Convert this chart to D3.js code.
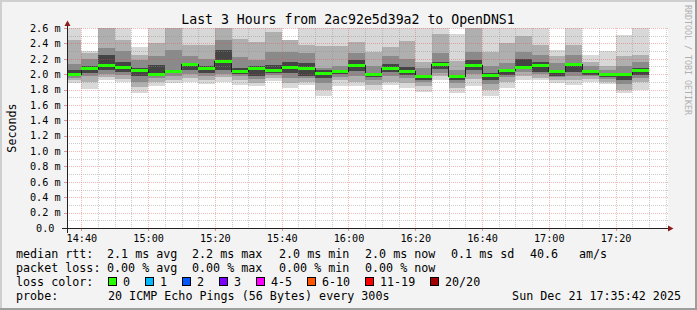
<!DOCTYPE html>
<html>
<head>
<meta charset="utf-8">
<script src="https://cdn.jsdelivr.net/npm/d3@7"></script>
<style>
  body { margin: 0; background: #f3f3f3; }
  svg { display: block; font-family: "DejaVu Sans Mono", monospace; }
</style>
</head>
<body>
<svg id="chart" width="697" height="310"></svg>
<script>
// 5 minute steps, time is the end of each step
const barEnds = ["14:40", "14:45", "14:50", "14:55", "15:00", "15:05", "15:10", "15:15", "15:20", "15:25",
    "15:30", "15:35", "15:40", "15:45", "15:50", "15:55", "16:00", "16:05", "16:10", "16:15",
    "16:20", "16:25", "16:30", "16:35", "16:40", "16:45", "16:50", "16:55", "17:00", "17:05",
    "17:10", "17:15", "17:20", "17:25", "17:30"];

// median rtt in ms
const medians = [1.99, 2.07, 2.11, 2.09, 2.05, 1.99, 2.03, 2.12, 2.07, 2.16,
    2.03, 2.08, 2.05, 2.09, 2.07, 2.01, 2.03, 2.11, 1.99, 2.08,
    2.03, 1.97, 2.13, 1.97, 2.11, 1.98, 2.05, 2.09, 2.11, 2.03,
    2.13, 2.03, 2.00, 1.99, 2.05];

// smoke, sorted ping times in ms (outer pair = min/max)
const smoke = [
    [1.88, 1.92, 1.95, 1.97, 2.05, 2.13, 2.45, 2.62],
    [1.81, 1.90, 1.97, 2.01, 2.10, 2.20, 2.27, 2.30],
    [1.93, 1.96, 2.00, 2.05, 2.25, 2.34, 2.62, 2.62],
    [1.90, 1.94, 1.99, 2.03, 2.16, 2.30, 2.44, 2.62],
    [1.75, 1.83, 1.90, 1.97, 2.08, 2.18, 2.25, 2.35],
    [1.85, 1.90, 1.95, 1.97, 2.12, 2.23, 2.40, 2.62],
    [1.88, 1.93, 1.97, 2.01, 2.06, 2.32, 2.62, 2.62],
    [1.90, 1.95, 2.00, 2.06, 2.15, 2.24, 2.38, 2.62],
    [1.87, 1.93, 1.97, 2.01, 2.10, 2.20, 2.38, 2.62],
    [1.90, 1.96, 2.00, 2.05, 2.31, 2.44, 2.60, 2.62],
    [1.86, 1.93, 1.97, 2.00, 2.08, 2.22, 2.46, 2.62],
    [1.84, 1.88, 1.94, 1.97, 2.10, 2.18, 2.42, 2.62],
    [1.91, 1.95, 1.99, 2.02, 2.12, 2.29, 2.55, 2.62],
    [1.82, 1.88, 1.95, 2.01, 2.16, 2.29, 2.44, 2.45],
    [1.86, 1.90, 1.95, 1.98, 2.14, 2.27, 2.38, 2.62],
    [1.71, 1.80, 1.88, 1.95, 2.05, 2.08, 2.36, 2.62],
    [1.84, 1.92, 1.96, 2.00, 2.06, 2.10, 2.36, 2.62],
    [1.84, 1.90, 1.97, 2.04, 2.18, 2.27, 2.42, 2.62],
    [1.80, 1.86, 1.92, 1.96, 2.02, 2.10, 2.29, 2.62],
    [1.86, 1.90, 1.97, 2.03, 2.13, 2.23, 2.35, 2.62],
    [1.82, 1.88, 1.95, 1.99, 2.09, 2.20, 2.43, 2.62],
    [1.77, 1.84, 1.90, 1.93, 1.99, 2.08, 2.16, 2.62],
    [1.92, 1.97, 2.02, 2.07, 2.16, 2.27, 2.52, 2.62],
    [1.75, 1.82, 1.88, 1.92, 1.99, 2.05, 2.17, 2.52],
    [1.84, 1.94, 2.00, 2.05, 2.18, 2.29, 2.62, 2.62],
    [1.71, 1.80, 1.87, 1.93, 2.01, 2.10, 2.29, 2.62],
    [1.82, 1.90, 1.96, 1.99, 2.07, 2.14, 2.40, 2.62],
    [1.92, 1.97, 2.03, 2.07, 2.20, 2.29, 2.50, 2.62],
    [1.92, 1.95, 2.00, 2.03, 2.16, 2.25, 2.38, 2.62],
    [1.88, 1.92, 1.96, 1.98, 2.06, 2.14, 2.23, 2.31],
    [1.86, 1.93, 1.98, 2.03, 2.14, 2.25, 2.38, 2.62],
    [1.90, 1.94, 1.97, 1.99, 2.05, 2.10, 2.16, 2.25],
    [1.87, 1.90, 1.94, 1.96, 2.02, 2.05, 2.10, 2.30],
    [1.75, 1.80, 1.87, 1.92, 2.01, 2.10, 2.23, 2.51],
    [1.80, 1.90, 1.95, 1.99, 2.08, 2.16, 2.25, 2.62]
];

const yTicks = [0, 0.2, 0.4, 0.6, 0.8, 1.0, 1.2, 1.4, 1.6, 1.8, 2.0, 2.2, 2.4, 2.6];
const xTicks = ["14:40", "15:00", "15:20", "15:40", "16:00", "16:20", "16:40", "17:00", "17:20"];

const rttStats = ["2.1 ms avg", "2.2 ms max", "2.0 ms min", "2.0 ms now", "0.1 ms sd", "40.6", "am/s"];
const lossStats = ["0.00 % avg", "0.00 % max", "0.00 % min", "0.00 % now"];
const lossLabels = ["0", "1", "2", "3", "4-5", "6-10", "11-19", "20/20"];
const lossColors = ["#26ff00", "#00b8ff", "#0059ff", "#7e00ff", "#ff00ff", "#ff5500", "#ff0000", "#a10000"];

const title = "Last 3 Hours from 2ac92e5d39a2 to OpenDNS1";
const probeText = "20 ICMP Echo Pings (56 Bytes) every 300s";
const stamp = "Sun Dec 21 17:35:42 2025";

const parseTime = d3.timeParse("%Y-%m-%d %H:%M");
const day = "2025-12-21 ";
const tStart = new Date(2025, 11, 21, 14, 35, 42);
const tEnd = new Date(2025, 11, 21, 17, 35, 42);

const svg = d3.select("#chart");
const W = 697, H = 310;
const pLeft = 67, pRight = 668, pTop = 28, pBottom = 228;

const x = d3.scaleTime().domain([tStart, tEnd]).range([pLeft, pRight]);
const y = d3.scaleLinear().domain([0, 2.6]).range([pBottom, pTop]);

const px = v => Math.round(v) + 0.5;

// background and 3d frame
svg.append("rect").attr("width", W).attr("height", H).attr("fill", "#f3f3f3");
svg.append("rect").attr("width", W).attr("height", 2).attr("fill", "#cfcfcf");
svg.append("rect").attr("width", 2).attr("height", H).attr("fill", "#cfcfcf");
svg.append("rect").attr("y", H - 2).attr("width", W).attr("height", 2).attr("fill", "#9e9e9e");
svg.append("rect").attr("x", W - 2).attr("width", 2).attr("height", H).attr("fill", "#9e9e9e");

svg.append("rect")
    .attr("x", pLeft).attr("y", pTop)
    .attr("width", pRight - pLeft).attr("height", pBottom - pTop)
    .attr("fill", "#ffffff");

svg.append("clipPath").attr("id", "plot")
    .append("rect")
    .attr("x", pLeft).attr("y", pTop)
    .attr("width", pRight - pLeft).attr("height", pBottom - pTop);

const bars = barEnds.map((s, i) => {
    const end = parseTime(day + s);
    const start = new Date(Math.max(+tStart, +d3.timeMinute.offset(end, -5)));
    return { start, end, median: medians[i], pings: smoke[i] };
});

// smoke layers, outer = lightest
const smokeColors = ["#d8d8d8", "#afafaf", "#8a8a8a", "#444444"];
const gSmoke = svg.append("g").attr("clip-path", "url(#plot)");

smokeColors.forEach((c, j) => {
    gSmoke.selectAll(null)
        .data(bars)
        .enter()
        .append("rect")
        .attr("x", d => x(d.start))
        .attr("width", d => x(d.end) - x(d.start))
        .attr("y", d => y(d.pings[7 - j]))
        .attr("height", d => y(d.pings[j]) - y(d.pings[7 - j]))
        .attr("fill", c)
        .attr("shape-rendering", "crispEdges");
});

// grid
const gGrid = svg.append("g").attr("shape-rendering", "crispEdges").attr("fill", "none");
const minorCol = "rgba(143,143,143,0.45)";
const majorCol = "rgba(222,80,80,0.4)";

y.ticks(26).filter(v => !yTicks.some(t => Math.abs(t - v) < 1e-6)).forEach(v => {
    gGrid.append("line")
        .attr("x1", pLeft).attr("x2", pRight)
        .attr("y1", px(y(v))).attr("y2", px(y(v)))
        .attr("stroke", minorCol).attr("stroke-dasharray", "1,1");
});

const majorTimes = xTicks.map(s => parseTime(day + s));

d3.timeMinute.every(5).range(tStart, tEnd)
    .filter(t => t.getMinutes() % 20 !== 0)
    .forEach(t => {
        gGrid.append("line")
            .attr("x1", px(x(t))).attr("x2", px(x(t)))
            .attr("y1", pTop).attr("y2", pBottom)
            .attr("stroke", minorCol).attr("stroke-dasharray", "1,1");
    });

yTicks.slice(1).forEach(v => {
    gGrid.append("line")
        .attr("x1", pLeft).attr("x2", pRight)
        .attr("y1", px(y(v))).attr("y2", px(y(v)))
        .attr("stroke", majorCol).attr("stroke-dasharray", "1,1");
});

majorTimes.forEach(t => {
    gGrid.append("line")
        .attr("x1", px(x(t))).attr("x2", px(x(t)))
        .attr("y1", pTop).attr("y2", pBottom)
        .attr("stroke", majorCol).attr("stroke-dasharray", "1,1");
});

// median: dark step line, then loss-coloured band
const stepPts = bars.map(d => [x(d.start), y(d.median)]);
stepPts.push([x(bars[bars.length - 1].end), y(bars[bars.length - 1].median)]);

svg.append("path")
    .attr("d", d3.line().curve(d3.curveStepAfter)(stepPts))
    .attr("fill", "none")
    .attr("stroke", "#202020")
    .attr("stroke-width", 1)
    .attr("shape-rendering", "crispEdges");

svg.append("g").selectAll("rect")
    .data(bars)
    .enter()
    .append("rect")
    .attr("x", d => x(d.start))
    .attr("width", d => x(d.end) - x(d.start))
    .attr("y", d => y(d.median) - 1.5)
    .attr("height", 3)
    .attr("fill", lossColors[0])
    .attr("shape-rendering", "crispEdges");

// axes
const xAxis = d3.axisBottom(x)
    .tickValues(majorTimes)
    .tickFormat(d3.timeFormat("%H:%M"))
    .tickSizeInner(3)
    .tickSizeOuter(0);

const gx = svg.append("g").attr("transform", "translate(0," + pBottom + ")").call(xAxis);
gx.select(".domain").remove();
gx.selectAll(".tick line").attr("stroke", "rgba(222,80,80,0.6)").attr("shape-rendering", "crispEdges");
gx.selectAll(".tick text")
    .attr("y", 14).attr("dy", null)
    .attr("fill", "#000")
    .style("font-size", "10.2px")
    .style("font-family", "DejaVu Sans Mono");

const yAxis = d3.axisLeft(y)
    .tickValues(yTicks)
    .tickFormat(v => v === 0 ? "0.0" : v.toFixed(1) + " m")
    .tickSizeInner(3)
    .tickSizeOuter(0);

const gy = svg.append("g").attr("transform", "translate(" + pLeft + ",0)").call(yAxis);
gy.select(".domain").remove();
gy.selectAll(".tick line").attr("stroke", "rgba(222,80,80,0.6)").attr("shape-rendering", "crispEdges");
gy.selectAll(".tick text")
    .attr("x", d => d === 0 ? -12.6 : -6.4)
    .attr("fill", "#000")
    .style("font-size", "10.2px")
    .style("font-family", "DejaVu Sans Mono");

svg.append("line")
    .attr("x1", pLeft - 5).attr("x2", pRight + 2)
    .attr("y1", pBottom + 0.5).attr("y2", pBottom + 0.5)
    .attr("stroke", "#222").attr("shape-rendering", "crispEdges");
svg.append("line")
    .attr("x1", pLeft + 0.5).attr("x2", pLeft + 0.5)
    .attr("y1", pBottom + 5).attr("y2", pTop - 5)
    .attr("stroke", "#222").attr("shape-rendering", "crispEdges");

svg.append("path")
    .attr("d", "M" + pRight + "," + (pBottom - 2.5) + "L" + (pRight + 5.5) + "," + (pBottom + 0.5) + "L" + pRight + "," + (pBottom + 3.5) + "Z")
    .attr("fill", "#8b1c1c");
svg.append("path")
    .attr("d", "M" + (pLeft - 2.5) + "," + (pTop - 2) + "L" + (pLeft + 0.5) + "," + (pTop - 7.5) + "L" + (pLeft + 3.5) + "," + (pTop - 2) + "Z")
    .attr("fill", "#8b1c1c");

// texts
svg.append("text")
    .attr("x", 348).attr("y", 23.5)
    .attr("text-anchor", "middle")
    .style("font-size", "13.2px")
    .text(title);

svg.append("text")
    .attr("transform", "translate(15.5,128) rotate(-90)")
    .attr("text-anchor", "middle")
    .style("font-size", "11.7px")
    .text("Seconds");

svg.append("text")
    .attr("transform", "translate(685,5) rotate(90)")
    .attr("fill", "#b0b0b0")
    .style("font-size", "8.3px")
    .text("RRDTOOL / TOBI OETIKER");

const legend = svg.append("g").style("font-size", "11.7px");
const rowY = [258, 272, 286, 300];
const colX = [107, 192, 279, 365, 451, 530, 579];

legend.append("text").attr("x", 16).attr("y", rowY[0]).text("median rtt:");
rttStats.forEach((s, i) => legend.append("text").attr("x", colX[i]).attr("y", rowY[0]).text(s));

legend.append("text").attr("x", 16).attr("y", rowY[1]).text("packet loss:");
lossStats.forEach((s, i) => legend.append("text").attr("x", colX[i]).attr("y", rowY[1]).text(s));

legend.append("text").attr("x", 16).attr("y", rowY[2]).text("loss color:");
const boxX = [108, 145, 182, 219, 256, 307, 365, 430];
lossLabels.forEach((s, i) => {
    legend.append("rect")
        .attr("x", boxX[i] + 0.5).attr("y", rowY[2] - 8.5)
        .attr("width", 8).attr("height", 8)
        .attr("fill", lossColors[i])
        .attr("stroke", "#000")
        .attr("shape-rendering", "crispEdges");
    legend.append("text").attr("x", boxX[i] + 15).attr("y", rowY[2]).text(s);
});

legend.append("text").attr("x", 16).attr("y", rowY[3]).text("probe:");
legend.append("text").attr("x", 108).attr("y", rowY[3]).text(probeText);
legend.append("text").attr("x", 681).attr("y", rowY[3]).attr("text-anchor", "end").text(stamp);
</script>
</body>
</html>
